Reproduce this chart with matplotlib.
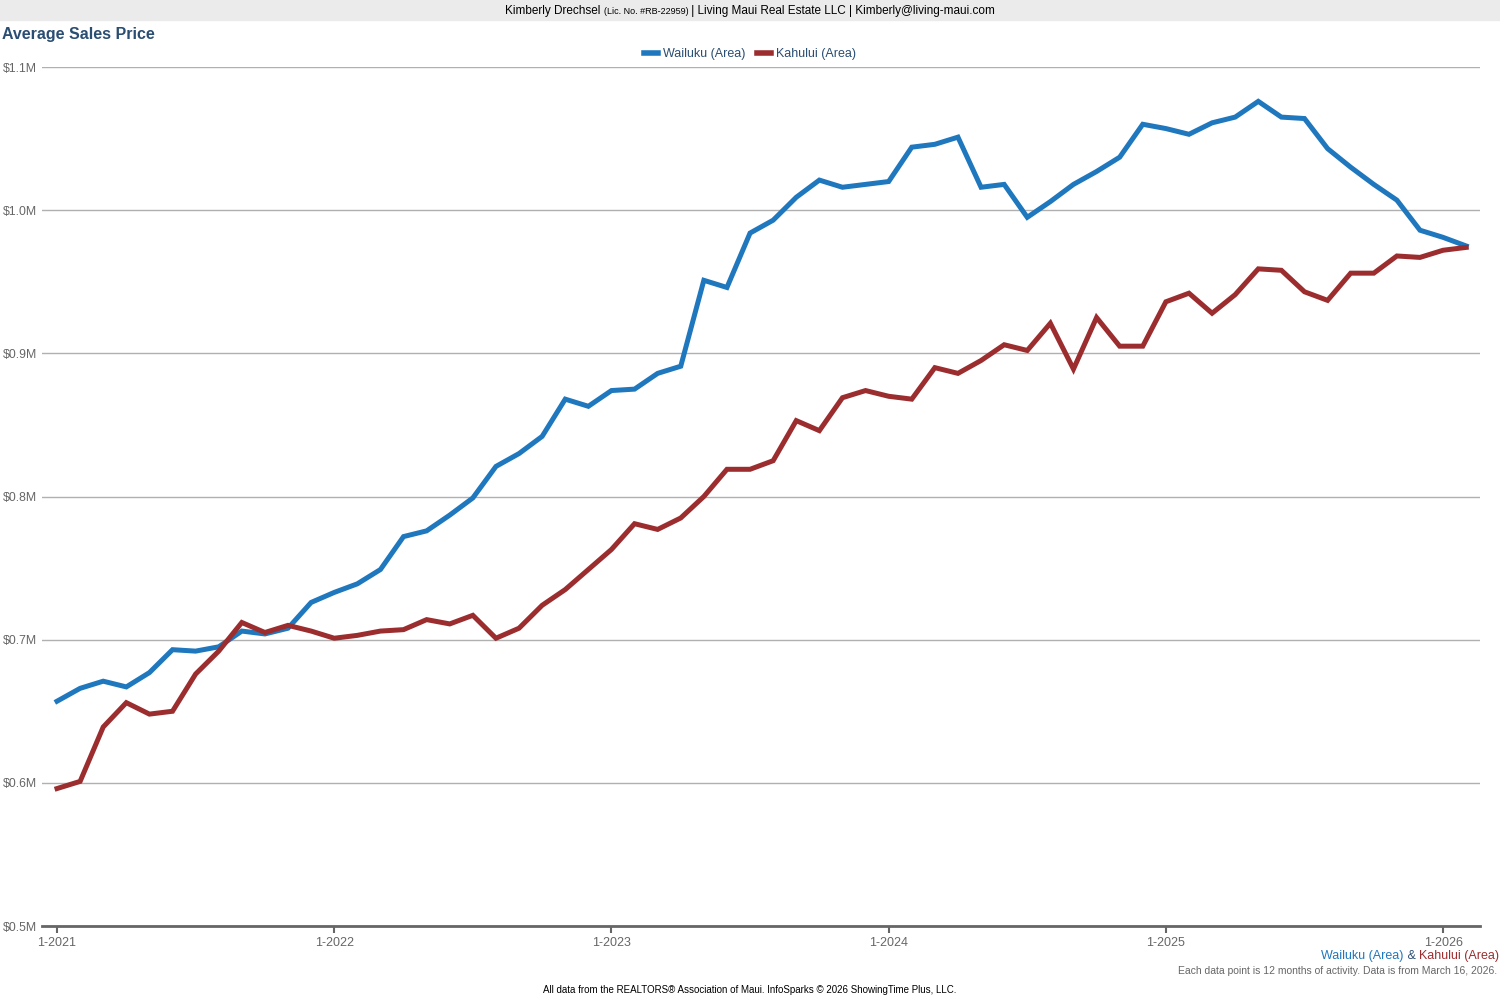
import matplotlib
matplotlib.use('Agg')
import matplotlib.pyplot as plt
from matplotlib.patches import Rectangle
from matplotlib.lines import Line2D

plt.rcParams['font.family'] = ['Liberation Sans', 'DejaVu Sans']

# monthly points, 1-2021 .. 2-2026, 12-month rolling average sales price ($M)
months = list(range(62))
wailuku = [0.657, 0.666, 0.671, 0.667, 0.677, 0.693, 0.692, 0.695, 0.706, 0.704,
           0.708, 0.726, 0.733, 0.739, 0.749, 0.772, 0.776, 0.787, 0.799, 0.821,
           0.830, 0.842, 0.868, 0.863, 0.874, 0.875, 0.886, 0.891, 0.951, 0.946,
           0.984, 0.993, 1.009, 1.021, 1.016, 1.018, 1.020, 1.044, 1.046, 1.051,
           1.016, 1.018, 0.995, 1.006, 1.018, 1.027, 1.037, 1.060, 1.057, 1.053,
           1.061, 1.065, 1.076, 1.065, 1.064, 1.043, 1.030, 1.018, 1.007, 0.986,
           0.981, 0.975]
kahului = [0.596, 0.601, 0.639, 0.656, 0.648, 0.650, 0.676, 0.692, 0.712, 0.705,
           0.710, 0.706, 0.701, 0.703, 0.706, 0.707, 0.714, 0.711, 0.717, 0.701,
           0.708, 0.724, 0.735, 0.749, 0.763, 0.781, 0.777, 0.785, 0.800, 0.819,
           0.819, 0.825, 0.853, 0.846, 0.869, 0.874, 0.870, 0.868, 0.890, 0.886,
           0.895, 0.906, 0.902, 0.921, 0.889, 0.925, 0.905, 0.905, 0.936, 0.942,
           0.928, 0.941, 0.959, 0.958, 0.943, 0.937, 0.956, 0.956, 0.968, 0.967,
           0.972, 0.974]
tick_pos = [0, 12, 24, 36, 48, 60]
tick_labels = ['1-2021', '1-2022', '1-2023', '1-2024', '1-2025', '1-2026']
y_ticks = [0.5, 0.6, 0.7, 0.8, 0.9, 1.0, 1.1]
series_names = ['Wailuku (Area)', 'Kahului (Area)']

blue = '#1f77bd'
red = '#9b2d2f'
gray = '#666666'
navy = '#2a4d72'

fig = plt.figure(figsize=(15, 10), dpi=100)
ax = fig.add_axes([0.028, 0.074, 0.9587, 0.859])

ax.plot(months, wailuku, color=blue, lw=3.6, solid_joinstyle='miter', zorder=3)
ax.plot(months, kahului, color=red, lw=3.6, solid_joinstyle='miter', zorder=3)

ax.set_xlim(-0.65, 61.6)
ax.set_ylim(0.5, 1.1)
ax.set_yticks(y_ticks)
ax.set_yticklabels(['$%.1fM' % v for v in y_ticks])
ax.set_xticks(tick_pos)
ax.set_xticklabels(tick_labels)
ax.grid(axis='y', color='#b0b0b0', lw=1)
ax.set_axisbelow(True)
for s in ['left', 'right', 'top']:
    ax.spines[s].set_visible(False)
ax.spines['bottom'].set_color('#666666')
ax.spines['bottom'].set_linewidth(2)
ax.tick_params(axis='y', length=0, pad=3.5, labelsize=8.8, labelcolor=gray)
ax.tick_params(axis='x', length=5, width=1.5, color='#666666', pad=3,
               labelsize=9, labelcolor=gray)

# header band
fig.patches.append(Rectangle((0, 0.98), 1, 0.02, transform=fig.transFigure,
                             color='#ebebeb', zorder=0))

renderer = fig.canvas.get_renderer()

def put_row(parts, x, y, align):
    # parts: list of (text, size, color); lays them out left to right
    texts = []
    widths = []
    for s, size, col in parts:
        t = fig.text(0, y, s, ha='left', va='center', fontsize=size, color=col)
        texts.append(t)
        widths.append(t.get_window_extent(renderer).width / fig.bbox.width)
    total = sum(widths)
    if align == 'center':
        start = x - total / 2
    elif align == 'right':
        start = x - total
    else:
        start = x
    for t, w in zip(texts, widths):
        t.set_x(start)
        start += w

put_row([('Kimberly Drechsel ', 8.5, 'black'),
         ('(Lic. No. #RB-22959)', 6.5, 'black'),
         (' | Living Maui Real Estate LLC | Kimberly@living-maui.com', 8.5, 'black')],
        0.5, 0.989, 'center')

fig.text(0.001, 0.966, 'Average Sales Price', ha='left', va='center',
         fontsize=11.5, fontweight='bold', color=navy)

handles = [Line2D([], [], color=blue, lw=4), Line2D([], [], color=red, lw=4)]
fig.legend(handles, series_names, loc='center',
           bbox_to_anchor=(0.5, 0.946), ncol=2, frameon=False, fontsize=9,
           handlelength=1.1, handletextpad=0.4, columnspacing=1.0,
           labelcolor=navy)

put_row([(series_names[0], 9, blue), (' & ', 9, navy), (series_names[1], 9, red)],
        0.9993, 0.044, 'right')
fig.text(0.998, 0.029, 'Each data point is 12 months of activity. Data is from March 16, 2026.',
         ha='right', va='center', fontsize=7.5, color=gray)
fig.text(0.5, 0.010, 'All data from the REALTORS\u00ae Association of Maui. InfoSparks \u00a9 2026 ShowingTime Plus, LLC.',
         ha='center', va='center', fontsize=7)

fig.savefig('out.png', dpi=100, facecolor='white')
